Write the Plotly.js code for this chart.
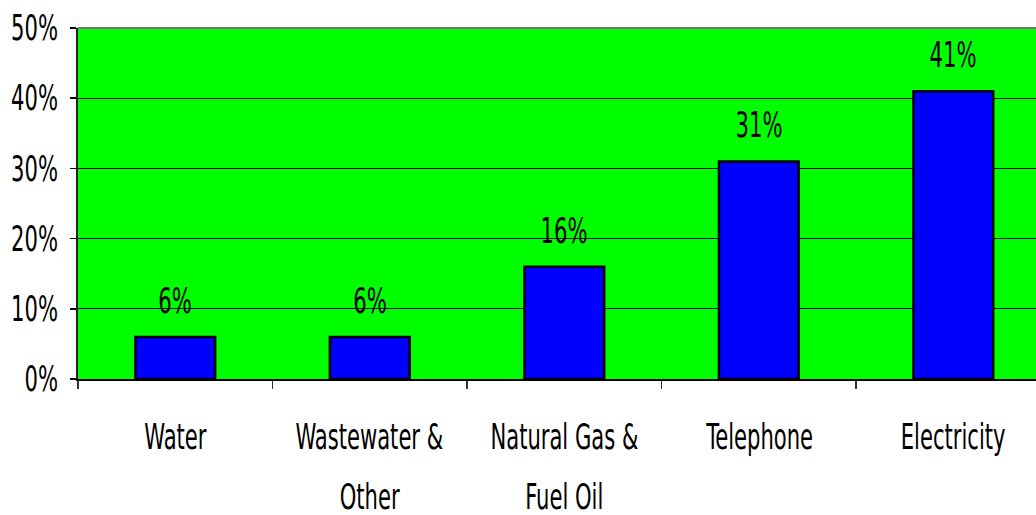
<!DOCTYPE html>
<html>
<head>
<meta charset="utf-8">
<script src="https://cdn.plot.ly/plotly-3.0.1.min.js"></script>
<style>html,body{margin:0;padding:0;background:#fff;}#chart{width:1036px;height:515px;}</style>
</head>
<body>
<div id="chart"></div>
<script>
// Data
const categories = ["Water", "Wastewater &<br>Other", "Natural Gas &<br>Fuel Oil", "Telephone", "Electricity"];
const shares = [6, 6, 16, 31, 41];
const valueLabels = ["6%", "6%", "16%", "31%", "41%"];
const yTickVals = [0, 10, 20, 30, 40, 50];
const yTickText = ["0%", "10%", "20%", "30%", "40%", "50%"];

const FONT = '"DejaVu Sans Condensed", "Liberation Sans", sans-serif';
const SQUEEZE = 0.67; // horizontal compression to mimic a tall narrow face

const trace = {
  type: 'bar',
  x: categories,
  y: shares,
  marker: {color: '#0000FF', line: {color: '#000000', width: 2.5}},
  hoverinfo: 'skip'
};

const annotations = [];
categories.forEach((c, i) => {
  annotations.push({
    x: c, y: shares[i], xref: 'x', yref: 'y',
    text: valueLabels[i], showarrow: false,
    yanchor: 'middle', yshift: 36,
    font: {family: FONT, size: 35, color: '#000'}
  });
  const lines = c.split('<br>');
  lines.forEach((ln, j) => {
    annotations.push({
      x: c, y: 0, xref: 'x', yref: 'y',
      text: ln, showarrow: false,
      yanchor: 'middle', yshift: -58 - 60 * j,
      font: {family: FONT, size: 35, color: '#000'}
    });
  });
});

const layout = {
  width: 1036, height: 515,
  margin: {l: 78, r: 0, t: 28, b: 136, pad: 0},
  paper_bgcolor: '#FFFFFF',
  plot_bgcolor: '#00FF00',
  bargap: 0.59,
  showlegend: false,
  xaxis: {
    type: 'category',
    range: [-0.5, 4.425],
    showticklabels: false,
    ticks: 'outside', tickson: 'boundaries', ticklen: 8, tickwidth: 1.5, tickcolor: '#333',
    showline: true, linecolor: '#000', linewidth: 2,
    showgrid: false, zeroline: false, fixedrange: true
  },
  yaxis: {
    range: [0, 50],
    tickvals: yTickVals, ticktext: yTickText,
    ticks: 'outside', ticklen: 6, tickwidth: 1.5, tickcolor: '#000',
    tickfont: {family: FONT, size: 35, color: '#000'},
    ticklabelstandoff: 5,
    showline: true, linecolor: '#222', linewidth: 2,
    showgrid: true, gridcolor: '#000', gridwidth: 1.2,
    zeroline: false, fixedrange: true
  },
  shapes: [{
    type: 'line', xref: 'paper', yref: 'paper', x0: 0, x1: 1, y0: 1, y1: 1,
    line: {color: '#777', width: 2}
  }],
  annotations: annotations
};

function squeezeText() {
  document.querySelectorAll('#chart .annotation-text, #chart .ytick text').forEach(t => {
    const w = t.getComputedTextLength();
    if (w > 0) {
      t.setAttribute('textLength', (w * SQUEEZE).toFixed(1));
      t.setAttribute('lengthAdjust', 'spacingAndGlyphs');
    }
  });
}

Plotly.newPlot('chart', [trace], layout, {displayModeBar: false, staticPlot: true}).then(squeezeText);
</script>
</body>
</html>
